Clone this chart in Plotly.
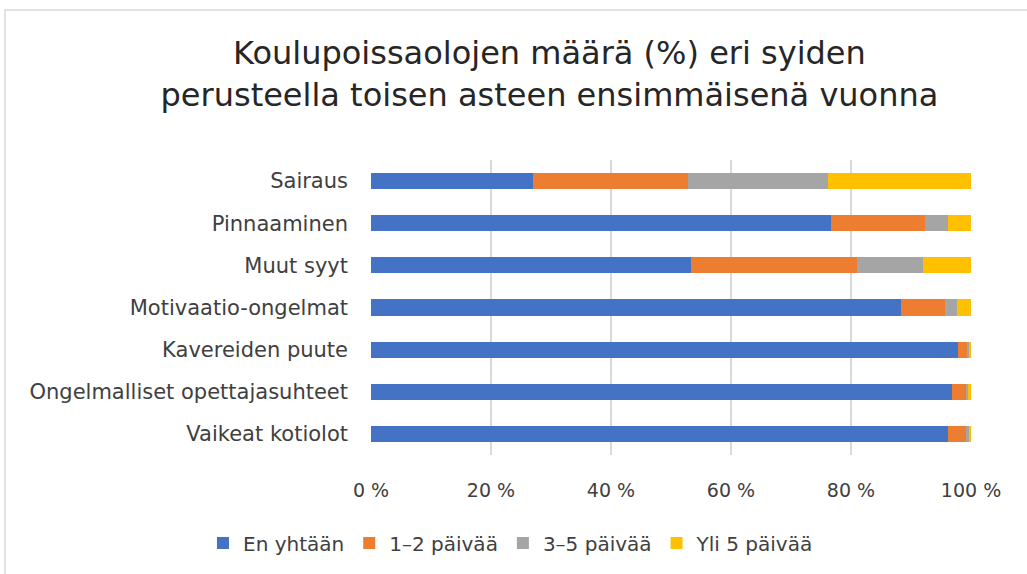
import plotly.graph_objects as go

categories = ["Sairaus", "Pinnaaminen", "Muut syyt", "Motivaatio-ongelmat",
              "Kavereiden puute", "Ongelmalliset opettajasuhteet", "Vaikeat kotiolot"]
series_names = ["En yhtään", "1–2 päivää", "3–5 päivää", "Yli 5 päivää"]
en_yhtaan = [27.0, 76.6, 53.4, 88.3, 97.9, 96.8, 96.1]
p1_2 = [25.8, 15.8, 27.6, 7.4, 1.5, 2.3, 3.0]
p3_5 = [23.4, 3.7, 11.0, 2.0, 0.2, 0.4, 0.5]
yli5 = [23.8, 3.9, 8.0, 2.3, 0.4, 0.5, 0.4]
colors = ["#4472C4", "#ED7D31", "#A5A5A5", "#FFC000"]
tick_vals = [0, 20, 40, 60, 80, 100]
tick_text = ["0 %", "20 %", "40 %", "60 %", "80 %", "100 %"]

FONT = "DejaVu Sans, Open Sans, sans-serif"

fig = go.Figure()
for name, vals, col in zip(series_names, [en_yhtaan, p1_2, p3_5, yli5], colors):
    fig.add_trace(go.Bar(y=categories, x=vals, name=name, orientation="h",
                         marker=dict(color=col, line=dict(width=0)), width=0.38))

# plot area px: left 371, right 971, top 160, bottom 455
W, H = 1027, 574
L, R, T, B = 371, 971, 160, 455
def px_x(p): return (p - L) / (R - L)
def px_y(p): return (B - p) / (B - T)

fig.update_layout(
    width=W, height=H,
    barmode="stack",
    paper_bgcolor="white", plot_bgcolor="white",
    margin=dict(l=L, r=W - R, t=T, b=H - B, autoexpand=False),
    font=dict(family=FONT, color="#404040", size=18),
    title=dict(text="Koulupoissaolojen määrä (%) eri syiden<br>perusteella toisen asteen ensimmäisenä vuonna",
               x=0.535, xanchor="center", y=1 - 64 / H, yanchor="middle",
               font=dict(family=FONT, size=32, color="#262626")),
    xaxis=dict(range=[0, 100], tickvals=tick_vals, ticktext=tick_text,
               showgrid=True, gridcolor="#D9D9D9", gridwidth=2, zeroline=False,
               showline=False, ticks="", ticklabelstandoff=22,
               tickfont=dict(family=FONT, size=19, color="#404040")),
    yaxis=dict(autorange="reversed", showgrid=False, ticks="", showline=False,
               ticklabelstandoff=22, tickfont=dict(family=FONT, size=21, color="#404040")),
    legend=dict(orientation="h", xref="paper", yref="paper",
                x=px_x(203), xanchor="left", y=px_y(543), yanchor="middle",
                font=dict(family=FONT, size=20, color="#404040"), traceorder="normal",
                itemwidth=30),
    showlegend=True,
    shapes=[dict(type="rect", xref="paper", yref="paper",
                 x0=px_x(5), x1=px_x(1040), y0=px_y(590), y1=px_y(10),
                 line=dict(color="#D9D9D9", width=1.5), layer="below")],
)
fig.write_html("out.html", config={"displayModeBar": False},
               post_script="document.body.style.margin='0';")
